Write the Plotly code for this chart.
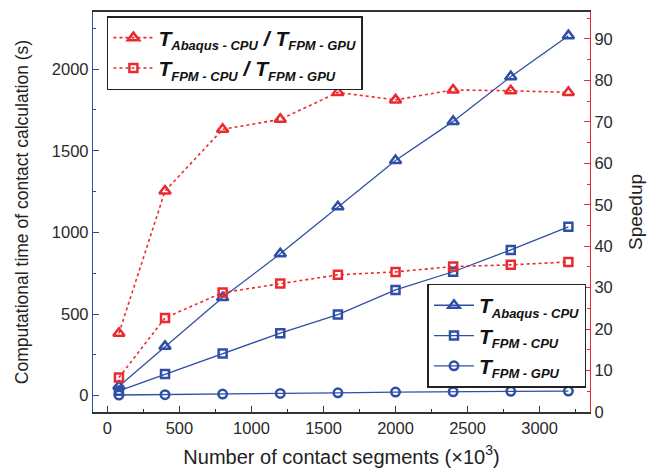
import plotly.graph_objects as go

segments = [80, 400, 800, 1200, 1600, 2000, 2400, 2800, 3200]

t_abaqus_cpu = [58, 302, 601, 869, 1157, 1440, 1680, 1954, 2205]
t_fpm_cpu = [30, 132, 258, 383, 497, 648, 759, 893, 1034]
t_fpm_gpu = [4, 6, 10, 14, 17.6, 22, 24, 27, 28]

speedup_abaqus = [19.0, 53.3, 68.2, 70.6, 77.1, 75.3, 77.7, 77.5, 77.1]
speedup_fpm = [8.3, 22.7, 28.8, 31.0, 33.1, 33.8, 35.1, 35.5, 36.2]

BLUE = "#2f4fa6"
RED = "#ea2a2e"
FONT = "Liberation Sans, Arial, sans-serif"


def lab(a, b=None):
    sub = "<sub><span style='font-size:13px'><b><i>%s</i></b></span></sub>"
    s = "<b><i>T</i></b>" + sub % a
    if b:
        s += "<b><i> / T</i></b>" + sub % b
    return s


fig = go.Figure()

fig.add_trace(go.Scatter(
    x=segments, y=speedup_abaqus, yaxis="y2", mode="lines+markers",
    name=lab("Abaqus - CPU", "FPM - GPU"), legend="legend",
    line=dict(color=RED, width=1.6, dash="dot"),
    marker=dict(symbol="triangle-up-open", size=10, color=RED, line=dict(width=2.5, color=RED))))
fig.add_trace(go.Scatter(
    x=segments, y=speedup_fpm, yaxis="y2", mode="lines+markers",
    name=lab("FPM - CPU", "FPM - GPU"), legend="legend",
    line=dict(color=RED, width=1.6, dash="dot"),
    marker=dict(symbol="square-open", size=8, color=RED, line=dict(width=2.5, color=RED))))

fig.add_trace(go.Scatter(
    x=segments, y=t_abaqus_cpu, mode="lines+markers",
    name=lab("Abaqus - CPU"), legend="legend2",
    line=dict(color=BLUE, width=1.3),
    marker=dict(symbol="triangle-up-open", size=10, color=BLUE, line=dict(width=2.5, color=BLUE))))
fig.add_trace(go.Scatter(
    x=segments, y=t_fpm_cpu, mode="lines+markers",
    name=lab("FPM - CPU"), legend="legend2",
    line=dict(color=BLUE, width=1.3),
    marker=dict(symbol="square-open", size=8, color=BLUE, line=dict(width=2.5, color=BLUE))))
fig.add_trace(go.Scatter(
    x=segments, y=t_fpm_gpu, mode="lines+markers",
    name=lab("FPM - GPU"), legend="legend2",
    line=dict(color=BLUE, width=1.3),
    marker=dict(symbol="circle-open", size=8.5, color=BLUE, line=dict(width=2.5, color=BLUE))))

tickfont = dict(family=FONT, size=16.5, color="#2a2a2a")

fig.update_layout(
    width=652, height=476,
    margin=dict(l=93, r=61, t=10, b=64),
    paper_bgcolor="white", plot_bgcolor="white",
    font=dict(family=FONT, color="#222"),
    xaxis=dict(
        range=[-100, 3350], tickvals=[0, 500, 1000, 1500, 2000, 2500, 3000],
        ticks="inside", ticklen=6, tickcolor="#333", tickwidth=1,
        minor=dict(ticks="inside", ticklen=3, tickcolor="#333", dtick=250, tick0=0),
        showline=True, linecolor="#333", linewidth=1.5, mirror=True,
        showgrid=False, zeroline=False, tickfont=tickfont,
        title=dict(text="Number of contact segments (×10<sup>3</sup>)",
                   font=dict(family=FONT, size=20, color="#222"), standoff=14)),
    yaxis=dict(
        range=[-100, 2350], tickvals=[0, 500, 1000, 1500, 2000],
        ticks="inside", ticklen=6, tickcolor=BLUE, tickwidth=1,
        minor=dict(ticks="inside", ticklen=3, tickcolor=BLUE, dtick=250, tick0=0),
        showline=True, linecolor=BLUE, linewidth=1.3,
        showgrid=False, zeroline=False, tickfont=tickfont,
        title=dict(text="Computational time of contact calculation (s)",
                   font=dict(family=FONT, size=17.5, color="#222"), standoff=18)),
    yaxis2=dict(
        overlaying="y", side="right", range=[0, 96.5],
        tickvals=[0, 10, 20, 30, 40, 50, 60, 70, 80, 90],
        ticks="inside", ticklen=6, tickcolor=RED, tickwidth=1,
        minor=dict(ticks="inside", ticklen=3, tickcolor=RED, dtick=5, tick0=0),
        showline=True, linecolor=RED, linewidth=1.3,
        showgrid=False, zeroline=False, tickfont=tickfont,
        title=dict(text="Speedup", font=dict(family=FONT, size=19, color="#222"), standoff=16)),
    legend=dict(
        x=0.028, y=0.99, xanchor="left", yanchor="top",
        bordercolor="#222", borderwidth=1.5, bgcolor="white",
        font=dict(family=FONT, size=21, color="#111"), itemwidth=40,
        tracegroupgap=0),
    legend2=dict(
        x=0.673, y=0.321, xanchor="left", yanchor="top",
        bordercolor="#222", borderwidth=1.5, bgcolor="white",
        font=dict(family=FONT, size=21, color="#111"), itemwidth=40,
        tracegroupgap=0),
)

fig.write_html("out.html")
